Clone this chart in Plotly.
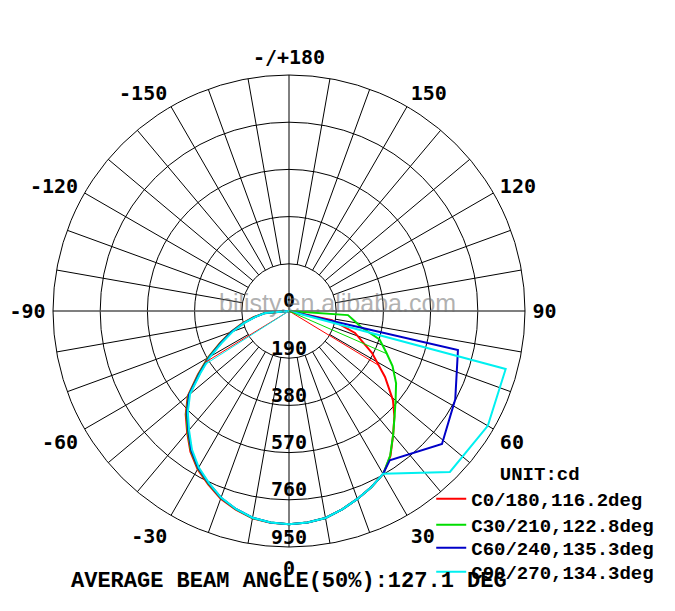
"""Polar luminous intensity diagram (cd) for four C-planes, with the beam angle markers."""

import plotly.graph_objects as go

# gamma angles on the left half (C180..C270 side), shared by all curves
theta_left = [-90, -85, -80, -75, -70, -65, -60, -55, -50, -45,
              -40, -35, -30, -25, -20, -15, -10, -5, 0]

red_left = [0, 100, 145, 196, 252, 308, 378, 448, 532, 588, 638, 692, 736, 770, 804, 828, 847, 856, 858]
green_left = [0, 100, 142, 192, 248, 304, 374, 444, 528, 584, 634, 688, 732, 767, 801, 826, 846, 855, 858]
blue_left = [0, 98, 140, 190, 245, 300, 370, 440, 525, 580, 630, 685, 730, 765, 800, 825, 845, 855, 858]
cyan_left = [0, 96, 137, 186, 240, 295, 365, 435, 520, 576, 626, 681, 727, 763, 799, 825, 845, 855, 858]

# right half, read separately per curve
red_theta_right = [5, 10, 15, 20, 25, 30, 35, 40, 45, 49.4, 55.5, 63.2, 71.6, 78, 90]
red_right = [855, 846, 827, 805, 783, 758, 712, 652, 600, 551, 469, 374, 280, 177, 0]

green_theta_right = [5, 10, 15, 20, 25, 30, 35, 40, 46, 50, 56, 62, 67, 72.5, 77.5, 82, 86, 90]
green_right = [855, 846, 827, 805, 783, 758, 710, 652, 592, 560, 520, 472, 425, 382, 297, 262, 238, 0]

blue_theta_right = [5, 10, 15, 20, 25, 30, 34, 49, 62, 77, 90]
blue_right = [855, 846, 827, 805, 783, 757, 725, 816, 758, 698, 0]

cyan_theta_right = [5, 10, 15, 20, 25, 30, 45, 60, 75, 90]
cyan_right = [855, 846, 827, 805, 783, 757, 916, 924, 903, 0]

names = ["C0/180,116.2deg", "C30/210,122.8deg", "C60/240,135.3deg", "C90/270,134.3deg"]
colors = ["#ff0000", "#00dd00", "#0000c8", "#00f0f0"]

# 50% beam angle marker lines (angle, intensity at the curve)
beam_theta = [[-58.5, 58.8], [66.4], [], [-57.5]]
beam_r = [[395, 420], [428], [], [392]]

ring_vals = [0, 190, 380, 570, 760, 950]
ring_text = ["0", "190", "380", "570", "760", "950"]

ang_vals = [0, 30, 60, 90, 120, 150, 180, 210, 240, 270, 300, 330]
ang_text = ["0", "30", "60", "90", "120", "150", "-/+180", "-150", "-120", "-90", "-60", "-30"]

RMAX = 950
R_PX = 236                  # outer ring radius in pixels
CD_PER_PX = RMAX / R_PX
CX, CY = 281, 303           # centre of the diagram in figure pixels (page has an 8px body margin)
W, H = 675, 611

tick_font = dict(family="DejaVu Sans Mono", size=20, color="black", weight="bold")
mono = "Liberation Mono"
leg_font = dict(family=mono, size=19, color="black", weight="bold")

fig = go.Figure()

# spokes every 10 deg, starting at the first ring (the main axes go through the centre)
sp_t, sp_r = [], []
for a in range(0, 360, 10):
    if a % 90 == 0:
        continue
    sp_t += [a, a, None]
    sp_r += [ring_vals[1], RMAX, None]
fig.add_trace(go.Scatterpolar(theta=sp_t, r=sp_r, mode="lines", line=dict(color="black", width=1),
                              showlegend=False, hoverinfo="skip"))
fig.add_trace(go.Scatterpolar(theta=[0, 0, 180], r=[RMAX, 0, RMAX], mode="lines",
                              line=dict(color="black", width=1), showlegend=False, hoverinfo="skip"))
fig.add_trace(go.Scatterpolar(theta=[90, 90, 270], r=[RMAX, 0, RMAX], mode="lines",
                              line=dict(color="#555555", width=1.5), showlegend=False, hoverinfo="skip"))

curves = [
    (red_left, red_theta_right, red_right),
    (green_left, green_theta_right, green_right),
    (blue_left, blue_theta_right, blue_right),
    (cyan_left, cyan_theta_right, cyan_right),
]
# one small legend per entry so the rows can sit as tightly as in the original
leg_ids = ["legend", "legend2", "legend3", "legend4"]
for (left, t_right, right), name, col, lid in zip(curves, names, colors, leg_ids):
    fig.add_trace(go.Scatterpolar(theta=theta_left + t_right, r=left + right, mode="lines", name=name,
                                  line=dict(color=col, width=2), legend=lid))

for bt, br, col in zip(beam_theta, beam_r, colors):
    for t, r in zip(bt, br):
        fig.add_trace(go.Scatterpolar(theta=[t, t], r=[0, r], mode="lines", line=dict(color=col, width=1),
                                      showlegend=False, hoverinfo="skip"))

# ring values written along the 0 deg axis, just inside each ring ("0" sits just above the centre)
lab_theta = [180] + [0] * (len(ring_vals) - 1)
lab_r = [9 * CD_PER_PX] + [v - 8.5 * CD_PER_PX for v in ring_vals[1:]]
fig.add_trace(go.Scatterpolar(theta=lab_theta, r=lab_r, mode="text", text=ring_text,
                              textposition="middle center", textfont=tick_font, showlegend=False,
                              hoverinfo="skip"))

leg_x = 0.627
row_y = [517, 540, 564]     # figure-pixel centres of rows 2..4

fig.update_layout(
    width=W, height=H,
    margin=dict(l=0, r=0, t=0, b=0),
    paper_bgcolor="white",
    polar=dict(
        domain=dict(x=[(CX - R_PX) / W, (CX + R_PX) / W],
                    y=[(H - CY - R_PX) / H, (H - CY + R_PX) / H]),
        bgcolor="white",
        angularaxis=dict(rotation=-90, direction="counterclockwise", tickvals=ang_vals, ticktext=ang_text,
                         showgrid=False, showline=True, linecolor="black", linewidth=1,
                         ticks="outside", ticklen=3, tickcolor="rgba(0,0,0,0)", tickfont=tick_font),
        radialaxis=dict(range=[0, RMAX], tickvals=ring_vals[1:], showgrid=True, gridcolor="black",
                        gridwidth=1, showline=False, showticklabels=False, ticks=""),
    ),
    legend=dict(x=leg_x, y=0.268, xanchor="left", yanchor="top", bgcolor="rgba(0,0,0,0)",
                font=leg_font, itemwidth=30,
                title=dict(text="UNIT:cd", side="top center", font=leg_font)),
    legend2=dict(x=leg_x, y=(H - row_y[0]) / H, xanchor="left", yanchor="middle",
                 bgcolor="rgba(0,0,0,0)", font=leg_font, itemwidth=30),
    legend3=dict(x=leg_x, y=(H - row_y[1]) / H, xanchor="left", yanchor="middle",
                 bgcolor="rgba(0,0,0,0)", font=leg_font, itemwidth=30),
    legend4=dict(x=leg_x, y=(H - row_y[2]) / H, xanchor="left", yanchor="middle",
                 bgcolor="rgba(0,0,0,0)", font=leg_font, itemwidth=30),
    annotations=[
        dict(text="AVERAGE BEAM ANGLE(50%):127.1 DEG", x=280.5 / W, y=(H - 573) / H,
             xref="paper", yref="paper", yanchor="middle", showarrow=False,
             font=dict(family=mono, size=22, color="black", weight="bold")),
        dict(text="bilisty.en.alibaba.com", x=329.5 / W, y=(H - 295) / H, xref="paper", yref="paper",
             yanchor="middle", showarrow=False,
             font=dict(family="Liberation Sans", size=25, color="rgba(110,110,110,0.55)")),
    ],
)

fig.write_html("out.html")
